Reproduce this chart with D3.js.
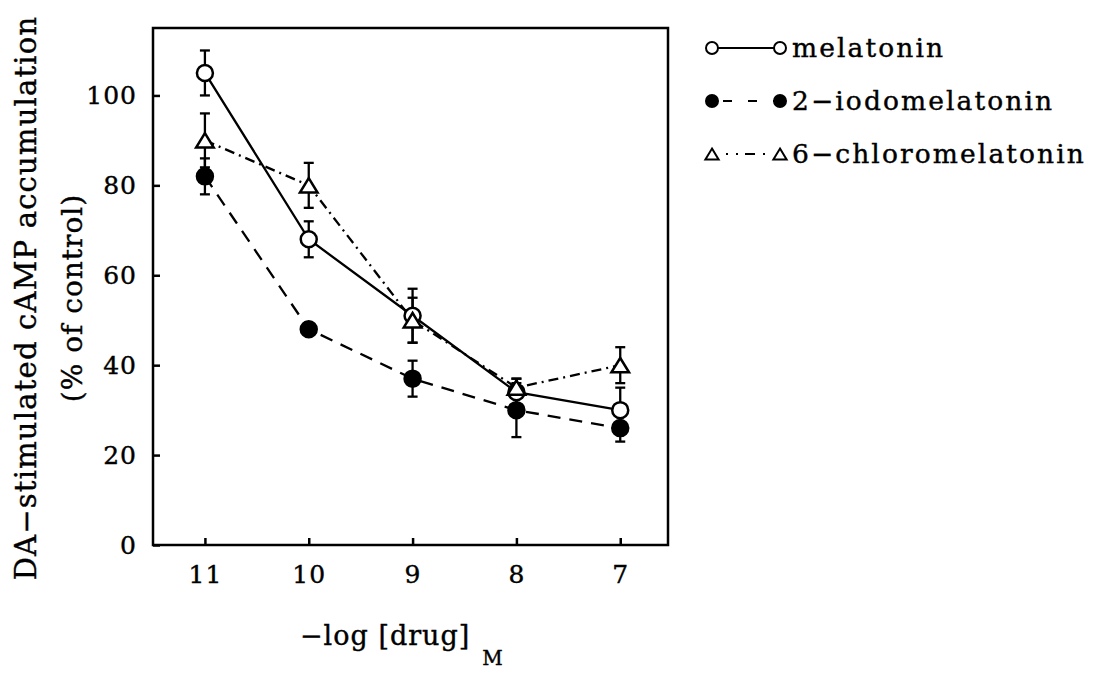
<!DOCTYPE html>
<html>
<head>
<meta charset="utf-8">
<script src="https://cdn.jsdelivr.net/npm/d3@7"></script>
<style>
  body { margin: 0; background: #fff; }
  text { font-family: "DejaVu Serif", serif; fill: #000; stroke: #000; stroke-width: 0.4px; }
</style>
</head>
<body>
<div id="chart"></div>
<script>
// data
var doses = [11, 10, 9, 8, 7];
var melatonin = [105, 68, 51, 34, 30];
var melatoninErr = [5, 4, 6, 3, 5];
var iodo = [82, 48, 37, 30, 26];
var iodoErr = [4, 1, 4, 6, 3];
var chloro = [90, 80, 50, 35, 40];
var chloroErr = [6, 5, 5, 2, 4];
var yTicks = [0, 20, 40, 60, 80, 100];
var seriesNames = ["melatonin", "2\u2212iodomelatonin", "6\u2212chloromelatonin"];

var W = 1097, H = 673,
    margin = {top: 28, left: 153, right: 429, bottom: 128},
    width = W - margin.left - margin.right,
    height = H - margin.top - margin.bottom;

var svg = d3.select("#chart").append("svg")
  .attr("width", W).attr("height", H);

var g = svg.append("g")
  .attr("transform", "translate(" + margin.left + "," + margin.top + ")");

var x = d3.scaleLinear().domain([11.5, 6.54]).range([0, width]);
var y = d3.scaleLinear().domain([0, 115]).range([height, 0]);

// frame
g.append("rect").attr("width", width).attr("height", height)
  .attr("fill", "none").attr("stroke", "#000").attr("stroke-width", 2.5);

// axes, ticks pointing inward
g.append("g").attr("transform", "translate(0," + height + ")")
  .call(d3.axisBottom(x).tickValues(doses).tickSizeInner(-7).tickSizeOuter(0).tickPadding(20).tickFormat(d3.format("d")))
  .call(a => a.select(".domain").remove())
  .call(a => a.selectAll("line").attr("stroke-width", 2.5))
  .call(a => a.selectAll("text").attr("font-size", 25).attr("letter-spacing", 1).attr("font-family", null).attr("fill", null));

g.append("g")
  .call(d3.axisLeft(y).tickValues(yTicks).tickSizeInner(-7).tickSizeOuter(0).tickPadding(16))
  .call(a => a.select(".domain").remove())
  .call(a => a.selectAll("line").attr("stroke-width", 2.5))
  .call(a => a.selectAll("text").attr("font-size", 25).attr("letter-spacing", 1).attr("font-family", null).attr("fill", null));

var series = [
  {vals: melatonin, err: melatoninErr, marker: "circle", fill: "#fff", dash: null, ldash: null, lx: 6},
  {vals: iodo, err: iodoErr, marker: "circle", fill: "#000", dash: "13,9", ldash: "9,16", lx: 11},
  {vals: chloro, err: chloroErr, marker: "triangle", fill: "#fff", dash: "10,5,2,5", ldash: "2,8,2,7,10,8,2,40", lx: 14}
];

var line = d3.line().x(d => x(d[0])).y(d => y(d[1]));

series.forEach(function (s) {
  var pts = doses.map((d, i) => [d, s.vals[i], s.err[i]]);
  g.append("path").datum(pts)
    .attr("d", line).attr("fill", "none").attr("stroke", "#000")
    .attr("stroke-width", 2.3).attr("stroke-dasharray", s.dash);

  var eb = g.append("g").selectAll("g").data(pts).join("g");
  eb.append("line")
    .attr("x1", d => x(d[0])).attr("x2", d => x(d[0]))
    .attr("y1", d => y(d[1] - d[2])).attr("y2", d => y(d[1] + d[2]))
    .attr("stroke", "#000").attr("stroke-width", 2.3);
  eb.selectAll(".cap").data(d => [[d[0], d[1] - d[2]], [d[0], d[1] + d[2]]]).join("line")
    .attr("class", "cap")
    .attr("x1", d => x(d[0]) - 5).attr("x2", d => x(d[0]) + 5)
    .attr("y1", d => y(d[1])).attr("y2", d => y(d[1]))
    .attr("stroke", "#000").attr("stroke-width", 2.3);
});

function drawMarker(sel, type, fill, size, sw) {
  if (type === "circle") {
    sel.append("circle").attr("r", size).attr("fill", fill)
      .attr("stroke", "#000").attr("stroke-width", sw);
  } else {
    var h = size * 1.8, w = size * 1.1;
    sel.append("path")
      .attr("d", "M0," + (-h / 2) + "L" + w + "," + (h / 2) + "L" + (-w) + "," + (h / 2) + "Z")
      .attr("fill", fill).attr("stroke", "#000").attr("stroke-width", sw)
      .attr("stroke-linejoin", "miter");
  }
}

series.forEach(function (s) {
  doses.forEach(function (d, i) {
    var m = g.append("g").attr("transform", "translate(" + x(d) + "," + y(s.vals[i]) + ")");
    drawMarker(m, s.marker, s.fill, 8, 2.5);
  });
});

// legend
var legend = svg.append("g").attr("transform", "translate(712,48)");
series.forEach(function (s, i) {
  var row = legend.append("g").attr("transform", "translate(0," + (i * 53) + ")");
  row.append("line").attr("x1", s.lx).attr("x2", 62).attr("y1", 0).attr("y2", 0)
    .attr("stroke", "#000").attr("stroke-width", 2).attr("stroke-dasharray", s.ldash);
  drawMarker(row.append("g"), s.marker, s.fill, 6, 2);
  drawMarker(row.append("g").attr("transform", "translate(68,0)"), s.marker, s.fill, 6, 2);
  row.append("text").attr("x", 80).attr("y", 9).attr("font-size", 26.5)
    .attr("letter-spacing", 2.1).text(seriesNames[i]);
});

// axis titles
var xt = svg.append("text").attr("x", 300).attr("y", 645).attr("font-size", 27).attr("letter-spacing", 1);
xt.append("tspan").text("\u2212log [drug]");
xt.append("tspan").attr("dx", 12).attr("dy", 20).attr("font-size", 20).text("M");

svg.append("text")
  .attr("transform", "translate(36,298) rotate(-90)")
  .attr("text-anchor", "middle").attr("font-size", 29).attr("letter-spacing", 1.2)
  .text("DA\u2212stimulated cAMP accumulation");
svg.append("text")
  .attr("transform", "translate(82,298) rotate(-90)")
  .attr("text-anchor", "middle").attr("font-size", 28).attr("letter-spacing", 1)
  .text("(% of control)");
</script>
</body>
</html>
